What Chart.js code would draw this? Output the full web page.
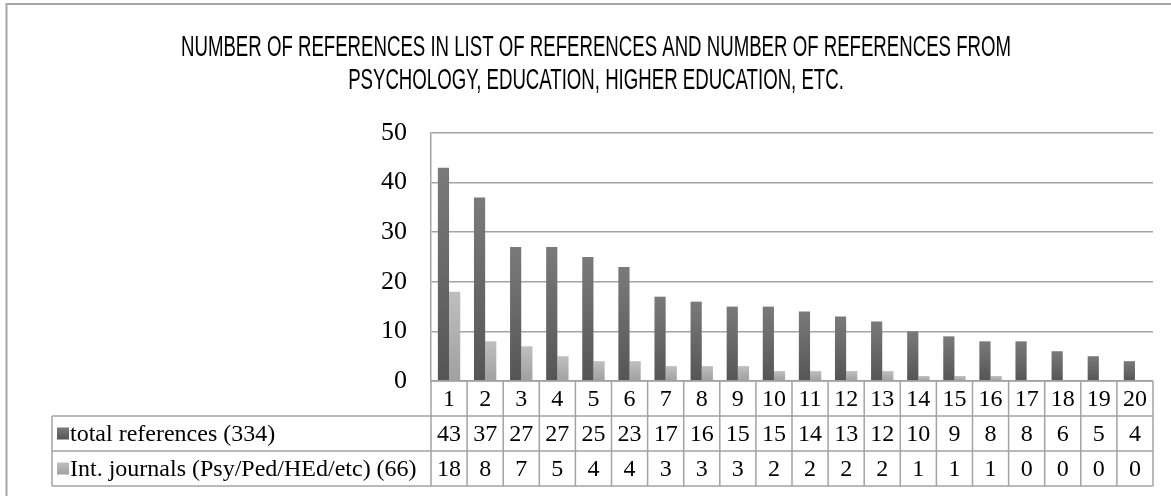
<!DOCTYPE html>
<html>
<head>
<meta charset="utf-8">
<script src="https://cdn.jsdelivr.net/npm/chart.js@4/dist/chart.umd.min.js"></script>
<style>
html,body{margin:0;padding:0;background:#fff;}
#wrap{position:relative;width:1171px;height:496px;}
</style>
</head>
<body>
<div id="wrap"><canvas id="c" width="1171" height="496"></canvas></div>
<script>
const titleLines = ["NUMBER OF REFERENCES IN LIST OF REFERENCES AND NUMBER OF REFERENCES FROM", "PSYCHOLOGY, EDUCATION, HIGHER EDUCATION, ETC."];
const categories = ["1","2","3","4","5","6","7","8","9","10","11","12","13","14","15","16","17","18","19","20"];
const seriesNames = ["total references (334)", "Int. journals (Psy/Ped/HEd/etc) (66)"];
const totalRefs = [43,37,27,27,25,23,17,16,15,15,14,13,12,10,9,8,8,6,5,4];
const intJournals = [18,8,7,5,4,4,3,3,3,2,2,2,2,1,1,1,0,0,0,0];
const yTicks = [0,10,20,30,40,50];

const GRID = '#a3a3a3';
const darkTop = '#7a7a7a', darkBot = '#555555';
const lightTop = '#bfbfbf', lightBot = '#a0a0a0';

function barGradient(topC, botC) {
  return function(ctx) {
    const chart = ctx.chart;
    const ys = chart.scales && chart.scales.y;
    if (!chart.chartArea || !ys || ctx.raw === undefined) return botC;
    const t = ys.getPixelForValue(ctx.raw);
    const b = ys.getPixelForValue(0);
    if (!(b - t > 0.5)) return botC;
    const g = chart.ctx.createLinearGradient(0, t, 0, b);
    g.addColorStop(0, topC);
    g.addColorStop(1, botC);
    return g;
  };
}

const frameAndTitle = {
  id: 'frameAndTitle',
  beforeDraw(chart) {
    const ctx = chart.ctx;
    ctx.save();
    ctx.fillStyle = '#fff';
    ctx.fillRect(0, 0, chart.width, chart.height);
    ctx.strokeStyle = '#a6a6a6';
    ctx.lineWidth = 2;
    ctx.beginPath();
    ctx.moveTo(6.5, chart.height + 2);
    ctx.lineTo(6.5, 4);
    ctx.lineTo(chart.width + 2, 4);
    ctx.stroke();
    // title, condensed
    ctx.fillStyle = '#000';
    ctx.font = '30px "Liberation Sans", Arial, sans-serif';
    ctx.textAlign = 'center';
    ctx.textBaseline = 'alphabetic';
    const w0 = ctx.measureText(titleLines[0]).width;
    const sx = 830 / w0;
    const cx = 596;
    const baselines = [56, 89];
    titleLines.forEach((line, i) => {
      ctx.save();
      ctx.translate(cx, baselines[i]);
      ctx.scale(sx, 1);
      ctx.fillText(line, 0, 0);
      ctx.restore();
    });
    ctx.restore();
  }
};

const dataTable = {
  id: 'dataTable',
  afterDraw(chart) {
    const ctx = chart.ctx;
    const xs = chart.scales.x;
    const area = chart.chartArea;
    const n = categories.length;
    const colW = (area.right - area.left) / n;
    const left = area.left, right = area.right;
    const rowTops = [area.bottom, area.bottom + 35, area.bottom + 70, area.bottom + 105];
    const legLeft = 52;
    ctx.save();
    ctx.strokeStyle = GRID;
    ctx.lineWidth = 1.5;
    ctx.beginPath();
    ctx.moveTo(left, rowTops[0]); ctx.lineTo(right, rowTops[0]);
    for (let r = 1; r < 4; r++) {
      ctx.moveTo(legLeft, rowTops[r]); ctx.lineTo(right, rowTops[r]);
    }
    for (let i = 0; i <= n; i++) {
      const x = left + i * colW;
      ctx.moveTo(x, rowTops[0]); ctx.lineTo(x, rowTops[3]);
    }
    ctx.moveTo(legLeft, rowTops[1]); ctx.lineTo(legLeft, rowTops[3]);
    ctx.stroke();

    ctx.fillStyle = '#000';
    ctx.font = '24px "Liberation Serif", "Times New Roman", serif';
    ctx.textAlign = 'center';
    ctx.textBaseline = 'middle';
    const rows = [categories, totalRefs, intJournals];
    rows.forEach((vals, r) => {
      const cy = (rowTops[r] + rowTops[r + 1]) / 2 + 1;
      vals.forEach((v, i) => {
        ctx.fillText(String(v), xs.getPixelForValue(i), cy);
      });
    });
    const legendColors = [[darkTop, darkBot], [lightTop, lightBot]];
    ctx.textAlign = 'left';
    seriesNames.forEach((name, k) => {
      const r = k + 1;
      const cy = (rowTops[r] + rowTops[r + 1]) / 2;
      const g = ctx.createLinearGradient(0, cy - 6, 0, cy + 6);
      g.addColorStop(0, legendColors[k][0]);
      g.addColorStop(1, legendColors[k][1]);
      ctx.fillStyle = g;
      ctx.fillRect(57, cy - 6, 12, 12);
      ctx.fillStyle = '#000';
      ctx.fillText(name, 70, cy + 1);
    });
    ctx.restore();
  }
};

new Chart(document.getElementById('c'), {
  type: 'bar',
  data: {
    labels: categories,
    datasets: [
      { label: seriesNames[0], data: totalRefs, backgroundColor: barGradient(darkTop, darkBot), borderWidth: 0 },
      { label: seriesNames[1], data: intJournals, backgroundColor: barGradient(lightTop, lightBot), borderWidth: 0 }
    ]
  },
  options: {
    responsive: false,
    animation: false,
    devicePixelRatio: 1,
    layout: { padding: { left: 0, right: 18, top: 133, bottom: 115 } },
    plugins: { legend: { display: false }, tooltip: { enabled: false }, title: { display: false } },
    datasets: { bar: { categoryPercentage: 0.62, barPercentage: 1.0 } },
    scales: {
      x: {
        display: true,
        grid: { display: false, drawTicks: false },
        border: { display: false },
        ticks: { display: false }
      },
      y: {
        min: 0, max: 50,
        afterFit(scale) { scale.width = 431; },
        afterBuildTicks(scale) { scale.ticks = yTicks.map(v => ({ value: v })); },
        grid: { color: GRID, lineWidth: 1.5, drawTicks: false },
        border: { display: true, color: GRID, width: 1.5 },
        ticks: {
          padding: 24,
          color: '#000',
          font: { family: '"Liberation Serif", "Times New Roman", serif', size: 26 }
        }
      }
    }
  },
  plugins: [frameAndTitle, dataTable]
});
</script>
</body>
</html>
